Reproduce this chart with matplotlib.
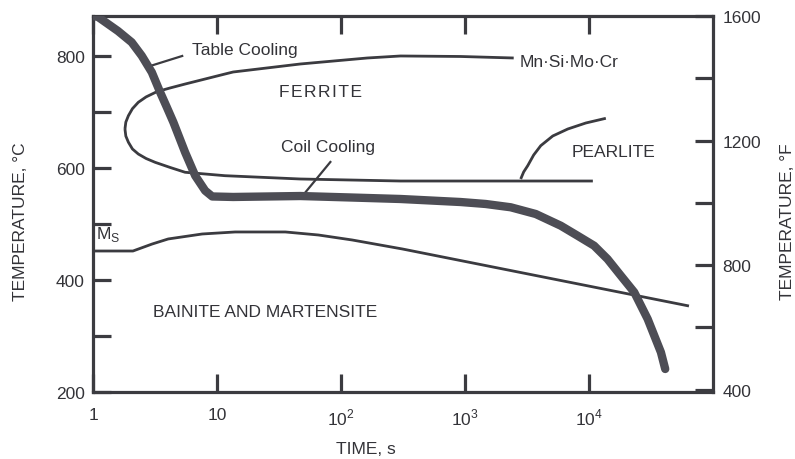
import matplotlib
matplotlib.use("Agg")
import matplotlib.pyplot as plt
from matplotlib.ticker import FixedLocator, NullLocator, FixedFormatter

# ---- data (time in s, temperature in deg C) ----
cool_t = [1.0, 1.098, 1.59, 2.05, 2.47, 2.98, 3.48, 3.94, 4.45, 5.53, 6.67, 8.03, 9.15,
          13.5, 47, 119, 302, 921, 1466, 2336, 3718, 5918, 8075, 10990, 14100, 18070,
          23170, 29720, 38020, 41180]
cool_T = [871.5, 869.8, 844.7, 824.6, 800.6, 771, 735.3, 708.5, 681.7, 628.1, 586.3, 559.5, 549.2,
          548.3, 550, 547.4, 544.7, 539.3, 535.8, 529.9, 517.9, 497, 479.2, 461.3, 437.5, 407.7,
          378.1, 330.4, 270.9, 241.1]

ferrite_upper_t = [1.81, 1.84, 1.93, 2.08, 2.32, 2.68, 3.27, 4.19, 5.53, 11.6, 13.5, 47, 163, 302, 921, 2470]
ferrite_upper_T = [669.7, 682, 693.5, 706, 717.4, 727, 736.3, 743, 750, 767.9, 771.5, 785.8, 796.5, 800.1, 799.2, 796.5]
ferrite_lower_t = [1.81, 1.84, 1.93, 2.08, 2.32, 2.68, 3.17, 4.19, 5.53, 11.6, 47, 302, 10740]
ferrite_lower_T = [669.7, 657, 646, 634, 625, 617, 610.2, 601, 592.4, 586.3, 580.4, 576.8, 576.8]

pearlite_t = [2813, 2973, 3206, 3580, 4083, 5100, 6745, 9420, 13670]
pearlite_T = [580.4, 593, 604.2, 623.3, 639.9, 657.2, 669.7, 680.4, 688.8]

ms_t = [1.0, 2.10, 3.0, 4.04, 7.6, 14.0, 35.6, 65.7, 123, 313, 64000]
ms_T = [451.8, 451.8, 464.3, 473.3, 482.2, 485.8, 485.8, 480.4, 471.5, 455.4, 353.6]

table_leader_t = [2.89, 5.24]
table_leader_T = [782.2, 800.1]
coil_leader_t = [82.1, 48.8]
coil_leader_T = [610.8, 550]

x_ticks = [1, 10, 100, 1000, 10000]
x_tick_labels = ['1', '10', r'10$^\mathregular{2}$', r'10$^\mathregular{3}$', r'10$^\mathregular{4}$']
yC_major = [200, 400, 600, 800]
yC_minor = [300, 500, 700]
yF_major = [400, 800, 1200, 1600]
yF_minor = [600, 1000, 1400]

# ---- style ----
plt.rcParams['font.family'] = ['Liberation Sans', 'DejaVu Sans']
FS = 12.5
AX_COL = '#3b3b40'
CURVE_COL = '#4d4d55'
tc = '#333338'

W, H = 795, 460
fig = plt.figure(figsize=(W / 100, H / 100), dpi=100)
ax = fig.add_axes([93 / W, 1 - 393 / H, 620 / W, 376 / H])
ax.set_xscale('log')
ax.set_xlim(1, 1e5)
ax.set_ylim(200, 871.5)

for s in ax.spines.values():
    s.set_color(AX_COL)
    s.set_linewidth(2.3)

# curves
ax.plot(cool_t, cool_T, color=CURVE_COL, lw=6.0, solid_capstyle='round', solid_joinstyle='round', zorder=4)
thin = dict(color=AX_COL, lw=2.0, solid_capstyle='butt', solid_joinstyle='round', zorder=3)
ax.plot(ferrite_upper_t, ferrite_upper_T, **thin)
ax.plot(ferrite_lower_t, ferrite_lower_T, **thin)
ax.plot(pearlite_t, pearlite_T, **thin)
ax.plot(ms_t, ms_T, **thin)
lead = dict(color=AX_COL, lw=1.6, zorder=3)
ax.plot(table_leader_t, table_leader_T, **lead)
ax.plot(coil_leader_t, coil_leader_T, **lead)

# texts
ax.text(6.3, 810.8, 'Table Cooling', fontsize=FS, color=tc, ha='left', va='center')
ax.text(68, 735.8, '\u200a'.join('FERRITE'), fontsize=FS, color=tc, ha='center', va='center')
ax.text(79, 637.6, 'Coil Cooling', fontsize=FS, color=tc, ha='center', va='center')
ax.text(2757, 789.4, 'Mn\u00b7Si\u00b7Mo\u00b7Cr', fontsize=FS, color=tc, ha='left', va='center')
ax.text(15900, 630.4, 'PEARLITE', fontsize=FS, color=tc, ha='center', va='center')
ax.text(3.05, 342.9, 'BAINITE AND MARTENSITE', fontsize=FS, color=tc, ha='left', va='center')
ax.text(1.06, 482.2, r'M$_\mathregular{S}$', fontsize=FS, color=tc, ha='left', va='center')

# ticks
ax.xaxis.set_major_locator(FixedLocator(x_ticks))
ax.xaxis.set_major_formatter(FixedFormatter(x_tick_labels))
ax.xaxis.set_minor_locator(NullLocator())
ax.yaxis.set_major_locator(FixedLocator(yC_major))
ax.yaxis.set_minor_locator(FixedLocator(yC_minor))
ax.tick_params(axis='both', which='both', direction='in', length=13, width=2.3,
               color=AX_COL, labelcolor=tc, labelsize=FS)
ax.tick_params(axis='x', which='both', top=True, pad=11)
ax.tick_params(axis='y', which='both', right=False, pad=6)

sec = ax.secondary_yaxis('right', functions=(lambda c: c * 1.8 + 32, lambda f: (f - 32) / 1.8))
sec.spines['right'].set_visible(False)
sec.yaxis.set_major_locator(FixedLocator(yF_major))
sec.yaxis.set_minor_locator(FixedLocator(yF_minor))
sec.tick_params(axis='y', which='both', direction='in', length=13, width=2.3,
                color=AX_COL, labelcolor=tc, labelsize=FS, pad=7)

# axis titles
fig.text(366 / W, 1 - 450 / H, 'TIME, s', fontsize=FS, color=tc, ha='center', va='center')
fig.text(21 / W, 1 - 222 / H, 'TEMPERATURE, °C', fontsize=FS, color=tc, ha='center', va='center',
         rotation=90)
fig.text(788 / W, 1 - 222 / H, 'TEMPERATURE, °F', fontsize=FS, color=tc, ha='center', va='center',
         rotation=90)

fig.savefig('out.png', dpi=100, facecolor='white')
